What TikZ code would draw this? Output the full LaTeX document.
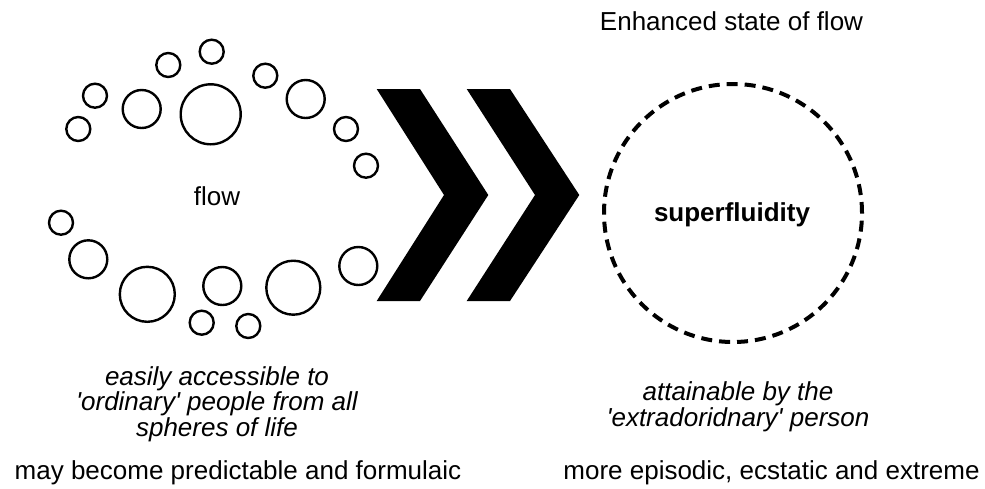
\documentclass[tikz,border=0pt]{standalone}
\usepackage{fontspec}
\setmainfont{Liberation Sans}
\newcommand{\sq}{\textquotesingle}
\begin{document}
\begin{tikzpicture}[x=1pt,y=-1pt,
  bubble/.style={circle,draw,line width=2.4pt,minimum size=#1,inner sep=0pt},
  chevron/.style={fill=black,draw=none},
  label/.style={font=\fontsize{26}{26}\selectfont,inner sep=0pt,align=center,anchor=base},
  note/.style={label,font=\fontsize{26}{25.5}\selectfont\itshape}]
\useasboundingbox (0,0) rectangle (985,488);

% ring of bubbles around "flow"
\node[bubble=24] (b1)  at (211.7,51.7) {};
\node[bubble=24] (b2)  at (168.3,65) {};
\node[bubble=24] (b3)  at (95,95.7) {};
\node[bubble=24] (b4)  at (78.3,129) {};
\node[bubble=38] (b5)  at (141.7,109) {};
\node[bubble=60] (b6)  at (210.7,114.3) {};
\node[bubble=24] (b7)  at (265.3,75.7) {};
\node[bubble=38] (b8)  at (305.7,99) {};
\node[bubble=24] (b9)  at (346,129) {};
\node[bubble=24] (b10) at (366,165.7) {};
\node[bubble=24] (b11) at (61,222.7) {};
\node[bubble=38] (b12) at (88.3,259.3) {};
\node[bubble=55] (b13) at (147.3,294.3) {};
\node[bubble=38] (b14) at (222.3,286) {};
\node[bubble=24] (b15) at (201.7,322.7) {};
\node[bubble=24] (b16) at (248.3,326) {};
\node[bubble=54] (b17) at (293.3,287.7) {};
\node[bubble=38] (b18) at (358.3,266) {};

\node[label] (flow) at (217,205.5) {flow};

% two chevrons
\fill[chevron] (376.7,89) -- (420,89) -- (488.3,195) -- (420,301) -- (376.7,301) -- (444,195) -- cycle;
\fill[chevron] (466.7,89) -- (510,89) -- (579.3,195) -- (510,301) -- (466.7,301) -- (535,195) -- cycle;

% superfluidity
\node[circle,draw,line width=4pt,dash pattern=on 11pt off 7pt,minimum size=258,inner sep=0pt] (sf) at (733,213) {};
\node[label,font=\fontsize{26}{26}\selectfont\bfseries] (sflabel) at (732,221) {superfluidity};

\node[label] (top) at (731.5,30) {Enhanced state of flow};

% multi-line notes: the base anchor sits on the last line
\node[note] (leftnote) at (217,436) {easily accessible to\\\sq ordinary\sq{} people from all\\spheres of life};
\node[label] (leftfoot) at (238,479) {may become predictable and formulaic};

\node[note] (rightnote) at (738,426) {attainable by the\\\sq extradoridnary\sq{} person};
\node[label] (rightfoot) at (771.5,479) {more episodic, ecstatic and extreme};
\end{tikzpicture}
\end{document}
